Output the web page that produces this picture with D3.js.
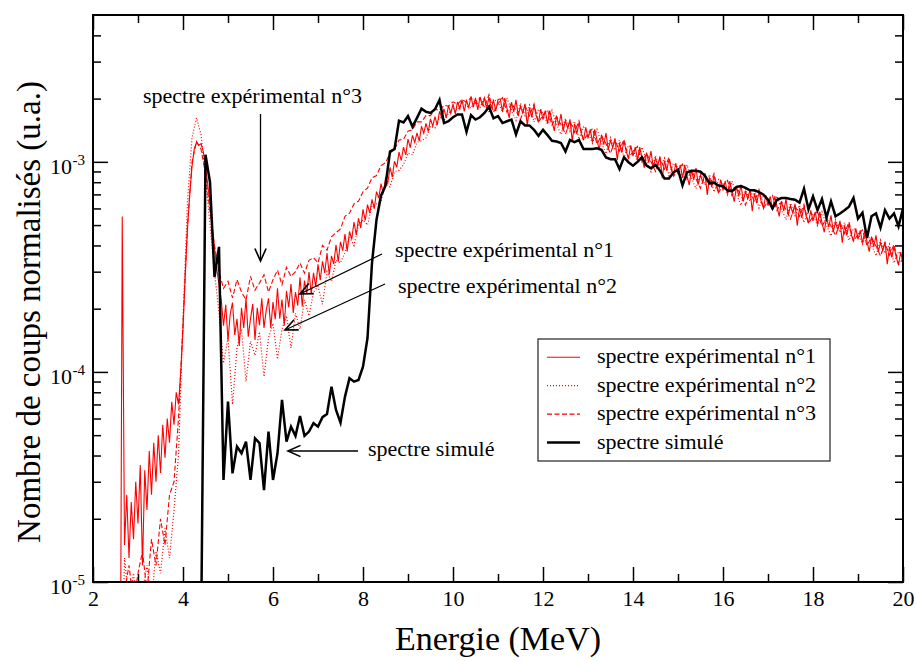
<!DOCTYPE html>
<html><head><meta charset="utf-8">
<script src="https://cdn.jsdelivr.net/npm/d3@7"></script>
<style>body{margin:0;background:#fff} text{font-family:"Liberation Serif","Times New Roman",serif;fill:#000}</style>
</head><body><svg id="c" width="916" height="661"></svg>
<script>
// ---- data ----
const xMajorTicks = [2,4,6,8,10,12,14,16,18,20];
const xMinorTicks = [3,5,7,9,11,13,15,17,19];
const yMajorTicks = [1e-5,1e-4,1e-3];
const yMajorExponents = ["-5","-4","-3"];
const yMinorTicks = [2e-5,3e-5,4e-5,5e-5,6e-5,7e-5,8e-5,9e-5,2e-4,3e-4,4e-4,5e-4,6e-4,7e-4,8e-4,9e-4,2e-3,3e-3,4e-3];

// experimental spectrum n°1 : channels of 0.05 MeV starting at 2.60 MeV
const exp1Start = 2.6, exp1Width = 0.05;
const exp1 = [
1e-6,5.5e-4,1.5e-5,2.6e-5,1.3e-5,2.4e-5,1.6e-5,3.0e-5,1.9e-5,3.6e-5,
1.2e-5,3.4e-5,2.2e-5,4.2e-5,2.6e-5,4.6e-5,3.0e-5,5.0e-5,3.3e-5,5.6e-5,
3.9e-5,6.0e-5,4.6e-5,7.2e-5,5.6e-5,8.0e-5,7.0e-5,1.0e-4,1.6e-4,2.9e-4,
4.8e-4,7.0e-4,9.5e-4,1.15e-3,1.24e-3,1.2e-3,1.22e-3,1.12e-3,9.5e-4,7.8e-4,
6.3e-4,4.9e-4,3.9e-4,3.1e-4,2.6e-4,2.2e-4,
1.66e-4,2.09e-4,1.41e-4,1.89e-4,2.14e-4,1.5e-4,1.79e-4,1.33e-4,2.02e-4,1.62e-4,
2.24e-4,1.47e-4,1.79e-4,2.11e-4,1.42e-4,2.02e-4,1.67e-4,2.24e-4,1.62e-4,1.97e-4,
2.24e-4,1.62e-4,2.15e-4,1.78e-4,2.5e-4,1.79e-4,2.21e-4,1.66e-4,2.43e-4,2.03e-4,
2.62e-4,1.91e-4,2.4e-4,2.07e-4,2.82e-4,2.05e-4,2.72e-4,2.35e-4,2.99e-4,2.35e-4,
2.96e-4,2.54e-4,3.25e-4,
2.73e-4,3.36e-4,2.96e-4,3.68e-4,2.9e-4,3.57e-4,3.26e-4,4.03e-4,3.35e-4,4.16e-4,
3.78e-4,4.53e-4,3.75e-4,4.66e-4,4.28e-4,5.17e-4,4.48e-4,5.38e-4,4.84e-4,5.94e-4,
5.26e-4,6.26e-4,5.7e-4,6.63e-4,5.98e-4,7.22e-4,6.72e-4,7.88e-4,7.07e-4,8.35e-4,
7.89e-4,9.4e-4,8.46e-4,10.07e-4,9.41e-4,11.13e-4,10.15e-4,11.76e-4,10.79e-4,12.84e-4,
11.69e-4,13.36e-4,12.38e-4,13.73e-4,12.56e-4,14.77e-4,13.68e-4,15.23e-4,13.91e-4,16.01e-4,
14.78e-4,16.43e-4,14.97e-4,17.38e-4,16.2e-4,17.85e-4,16.17e-4,18.55e-4,16.99e-4,18.8e-4,
16.92e-4,19.29e-4,17.85e-4,19.8e-4,17.39e-4,19.55e-4,18.14e-4,20.52e-4,18.15e-4,20.16e-4,
17.66e-4,20.35e-4,18.62e-4,20.06e-4,17.95e-4,20.33e-4,17.96e-4,19.66e-4,17.48e-4,19.82e-4,
19.93e-4,17.39e-4,20.09e-4,17.95e-4,16.19e-4,19.22e-4,17.29e-4,19.73e-4,16.56e-4,18.44e-4,
17.07e-4,18.9e-4,14.91e-4,18.12e-4,16.26e-4,18.55e-4,16.55e-4,15.42e-4,17.83e-4,15.87e-4,
17.54e-4,15.25e-4,17.55e-4,15.62e-4,14.04e-4,16.59e-4,14.87e-4,16.9e-4,14.12e-4,15.66e-4,
14.44e-4,15.92e-4,12.51e-4,15.14e-4,13.54e-4,15.38e-4,13.66e-4,12.67e-4,14.59e-4,12.92e-4,
14.28e-4,12.41e-4,14.27e-4,12.69e-4,11.4e-4,13.46e-4,12.06e-4,13.69e-4,11.44e-4,12.67e-4,
11.7e-4,12.93e-4,10.17e-4,12.33e-4,11.05e-4,12.57e-4,11.18e-4,10.39e-4,11.99e-4,10.64e-4,
11.76e-4,10.21e-4,11.74e-4,10.44e-4,9.37e-4,11.07e-4,9.91e-4,11.25e-4,9.39e-4,10.4e-4,
9.61e-4,10.61e-4,8.36e-4,10.13e-4,9.07e-4,10.32e-4,9.19e-4,8.54e-4,9.85e-4,8.74e-4,
9.67e-4,8.41e-4,9.68e-4,8.61e-4,7.74e-4,9.16e-4,8.21e-4,9.33e-4,7.8e-4,8.65e-4,
8.0e-4,8.84e-4,6.96e-4,8.44e-4,7.57e-4,8.62e-4,7.67e-4,7.13e-4,8.24e-4,7.32e-4,
8.09e-4,7.03e-4,8.09e-4,7.2e-4,6.47e-4,7.64e-4,6.85e-4,7.78e-4,6.5e-4,7.21e-4,
6.67e-4,7.38e-4,5.82e-4,7.07e-4,6.35e-4,7.24e-4,6.45e-4,6.01e-4,6.94e-4,6.18e-4,
6.84e-4,5.95e-4,6.86e-4,6.11e-4,5.5e-4,6.51e-4,5.84e-4,6.65e-4,5.57e-4,6.18e-4,
5.71e-4,6.31e-4,4.97e-4,6.03e-4,5.41e-4,6.16e-4,5.48e-4,5.1e-4,5.88e-4,5.23e-4,
5.78e-4,5.02e-4,5.78e-4,5.14e-4,4.62e-4,5.46e-4,4.89e-4,5.56e-4,4.65e-4,5.15e-4,
4.75e-4,5.24e-4,4.12e-4,4.99e-4,4.47e-4,5.08e-4,4.51e-4,4.19e-4,4.82e-4,4.28e-4,
4.72e-4,4.09e-4,4.7e-4,4.17e-4,3.74e-4,4.41e-4,3.94e-4,4.47e-4,3.73e-4,4.12e-4,
3.79e-4,4.17e-4,3.26e-4,3.94e-4,3.51e-4,3.96e-4,3.51e-4,3.24e-4,3.72e-4,3.28e-4];

// experimental spectra n°2 and n°3 : channels of 0.1 MeV starting at 2.6 MeV
const exp23Start = 2.6, exp23Width = 0.1;
const exp2 = [
1e-6,1.3e-5,8e-6,1.1e-5,7e-6,9e-6,1.2e-5,8e-6,1.4e-5,1.1e-5,
1.8e-5,1.3e-5,2.2e-5,4.0e-5,1.8e-4,6.5e-4,1.3e-3,1.62e-3,1.35e-3,8.5e-4,
5.0e-4,3.0e-4,1.9e-4,1.1e-4,1.45e-4,7e-5,1.3e-4,1.6e-4,9e-5,1.4e-4,
1.2e-4,1.55e-4,9.5e-5,1.45e-4,1.7e-4,1.15e-4,1.6e-4,1.85e-4,1.3e-4,1.9e-4,
1.6e-4,2.2e-4,1.85e-4,2.4e-4,2.55e-4,2.1e-4,3.0e-4,2.7e-4,3.4e-4,3.3e-4,
3.7e-4,4.4e-4,4.0e-4,5.0e-4,5.3e-4,5.0e-4,6.2e-4,6.3e-4,6.5e-4,7.8e-4,
7.6e-4,9.0e-4,9.1e-4,9.7e-4,1.1e-3,1.08e-3,1.24e-3,1.26e-3,1.3e-3,1.48e-3,
1.45e-3,1.63e-3,1.57e-3,1.7e-3,1.8e-3,1.76e-3,1.93e-3,1.84e-3,1.8e-3,1.98e-3,
18.05e-4,20.44e-4,17.1e-4,19.85e-4,19.28e-4,17.2e-4,20.17e-4,17.57e-4,15.75e-4,18.97e-4,
16.6e-4,18.64e-4,15.46e-4,17.79e-4,17.03e-4,15.09e-4,17.55e-4,15.17e-4,13.49e-4,16.11e-4,
13.99e-4,15.58e-4,12.82e-4,14.62e-4,13.87e-4,12.27e-4,14.26e-4,12.31e-4,10.93e-4,13.04e-4,
11.36e-4,12.69e-4,10.48e-4,11.99e-4,11.42e-4,10.1e-4,11.73e-4,10.12e-4,8.98e-4,10.71e-4,
9.32e-4,10.42e-4,8.6e-4,9.85e-4,9.38e-4,8.32e-4,9.68e-4,8.37e-4,7.45e-4,8.9e-4,
7.76e-4,8.69e-4,7.18e-4,8.23e-4,7.85e-4,6.96e-4,8.09e-4,6.99e-4,6.21e-4,7.42e-4,
6.49e-4,7.28e-4,6.03e-4,6.93e-4,6.63e-4,5.89e-4,6.87e-4,5.95e-4,5.31e-4,6.36e-4,
5.55e-4,6.21e-4,5.13e-4,5.88e-4,5.61e-4,4.97e-4,5.78e-4,4.99e-4,4.44e-4,5.3e-4,
4.61e-4,5.14e-4,4.23e-4,4.83e-4,4.59e-4,4.05e-4,4.69e-4,4.03e-4,3.57e-4,4.24e-4,
3.67e-4,4.06e-4,3.3e-4,3.74e-4,3.52e-4];
const exp3 = [
1e-6,9e-6,1.2e-5,8e-6,1.1e-5,1.4e-5,9e-6,1.6e-5,1.2e-5,2.0e-5,
1.5e-5,2.6e-5,3.0e-5,6.0e-5,1.7e-4,5.0e-4,1.0e-3,1.25e-3,1.15e-3,8.8e-4,
5.8e-4,4.0e-4,3.0e-4,2.5e-4,2.7e-4,2.25e-4,2.75e-4,2.4e-4,2.2e-4,2.85e-4,
2.45e-4,2.65e-4,2.9e-4,2.4e-4,2.75e-4,3.05e-4,2.6e-4,3.15e-4,2.85e-4,3.0e-4,
3.3e-4,2.95e-4,3.4e-4,3.5e-4,3.3e-4,4.0e-4,3.8e-4,4.4e-4,4.6e-4,4.8e-4,
5.5e-4,5.7e-4,6.3e-4,6.5e-4,7.2e-4,7.5e-4,8.4e-4,8.6e-4,9.6e-4,9.9e-4,
1.1e-3,1.14e-3,1.27e-3,1.28e-3,1.4e-3,1.42e-3,1.55e-3,1.55e-3,1.66e-3,1.66e-3,
1.78e-3,1.76e-3,1.86e-3,1.84e-3,1.93e-3,1.88e-3,1.98e-3,1.92e-3,2.02e-3,1.9e-3,
20.16e-4,18.15e-4,20.9e-4,17.2e-4,18.9e-4,20.2e-4,17.21e-4,19.03e-4,17.56e-4,15.93e-4,
18.54e-4,16.55e-4,18.9e-4,15.42e-4,16.7e-4,17.71e-4,14.97e-4,16.43e-4,15.04e-4,13.53e-4,
15.62e-4,13.83e-4,15.66e-4,12.67e-4,13.6e-4,14.41e-4,12.16e-4,13.33e-4,12.18e-4,10.95e-4,
12.68e-4,11.27e-4,12.8e-4,10.39e-4,11.2e-4,11.86e-4,10.01e-4,10.96e-4,10.01e-4,8.99e-4,
10.42e-4,9.25e-4,10.52e-4,8.54e-4,9.2e-4,9.76e-4,8.26e-4,9.07e-4,8.3e-4,7.48e-4,
8.67e-4,7.71e-4,8.78e-4,7.13e-4,7.7e-4,8.16e-4,6.9e-4,7.57e-4,6.93e-4,6.23e-4,
7.25e-4,6.46e-4,7.37e-4,6.01e-4,6.5e-4,6.91e-4,5.86e-4,6.45e-4,5.92e-4,5.34e-4,
6.2e-4,5.51e-4,6.27e-4,5.1e-4,5.5e-4,5.83e-4,4.93e-4,5.41e-4,4.95e-4,4.45e-4,
5.15e-4,4.56e-4,5.17e-4,4.19e-4,4.5e-4,4.75e-4,4.0e-4,4.37e-4,3.98e-4,3.56e-4,
4.1e-4,3.6e-4,4.04e-4,3.24e-4,3.45e-4];

// simulated spectrum : bins of 0.1 MeV starting at 4.4 MeV
const simStart = 4.4, simWidth = 0.1;
const sim = [
5e-6,1.08e-3,8.0e-4,2.83e-4,3.94e-4,3.06e-5,
7.22e-5,3.29e-5,4.41e-5,4.10e-5,4.66e-5,3.06e-5,4.83e-5,4.58e-5,2.74e-5,5.20e-5,
3.06e-5,4.10e-5,7.36e-5,4.66e-5,5.49e-5,4.96e-5,6.17e-5,4.96e-5,5.20e-5,5.70e-5,
5.49e-5,6.09e-5,6.31e-5,8.51e-5,6.59e-5,5.74e-5,7.63e-5,9.33e-5,8.99e-5,9.16e-5,
1.06e-4,1.45e-4,3.3e-4,5.3e-4,6.9e-4,7.7e-4,1.12e-3,1.15e-3,1.57e-3,1.54e-3,
1.65e-3,1.47e-3,1.62e-3,1.79e-3,1.73e-3,1.71e-3,1.78e-3,1.97e-3,1.53e-3,1.56e-3,
1.63e-3,1.68e-3,1.68e-3,1.39e-3,1.67e-3,1.59e-3,1.63e-3,1.71e-3,1.83e-3,1.61e-3,
1.65e-3,1.53e-3,1.56e-3,1.59e-3,1.35e-3,1.56e-3,1.49e-3,1.49e-3,1.42e-3,1.33e-3,
1.42e-3,1.34e-3,1.26e-3,1.25e-3,1.23e-3,1.12e-3,1.27e-3,1.24e-3,1.27e-3,1.15e-3,
1.15e-3,1.15e-3,1.16e-3,1.14e-3,1.05e-3,1.03e-3,1.03e-3,9.24e-4,1.05e-3,9.96e-4,
9.59e-4,1.0e-3,1.05e-3,9.59e-4,9.31e-4,9.66e-4,9.07e-4,8.32e-4,8.32e-4,8.91e-4,
9.17e-4,7.72e-4,8.91e-4,9.07e-4,9.07e-4,8.98e-4,8.58e-4,7.90e-4,7.96e-4,7.72e-4,
7.66e-4,7.32e-4,7.24e-4,7.60e-4,7.66e-4,7.52e-4,7.32e-4,7.32e-4,7.17e-4,6.98e-4,
6.6e-4,6.0e-4,6.6e-4,6.73e-4,6.73e-4,6.65e-4,6.6e-4,6.4e-4,7.44e-4,5.94e-4,
6.85e-4,5.89e-4,6.65e-4,5.43e-4,6.48e-4,5.51e-4,5.68e-4,5.89e-4,6.12e-4,6.73e-4,
5.37e-4,5.72e-4,4.34e-4,5.51e-4,5.68e-4,4.86e-4,5.89e-4,5.37e-4,5.68e-4,4.93e-4,
6.0e-4,3.0e-4];

const legendLabels = ["spectre expérimental n°1","spectre expérimental n°2","spectre expérimental n°3","spectre simulé"];
const xTitle = "Energie (MeV)";
const yTitle = "Nombre de coups normalisés (u.a.)";

// ---- drawing ----
const svg = d3.select("#c");
const L = 93, R = 903, T = 15, B = 582;
const x = d3.scaleLinear().domain([2,20]).range([L,R]);
const y = d3.scaleLog().domain([1e-5,5e-3]).range([B,T]);

svg.append("defs").append("clipPath").attr("id","clip")
  .append("rect").attr("x",L).attr("y",T).attr("width",R-L).attr("height",B-T);
const mk = svg.select("defs").append("marker").attr("id","arr")
  .attr("markerUnits","userSpaceOnUse").attr("markerWidth",20).attr("markerHeight",20)
  .attr("viewBox","-12 -8 14 16").attr("refX",0).attr("refY",0).attr("orient","auto");
mk.append("path").attr("d","M-10,-4.5L0,0L-10,4.5").attr("fill","none").attr("stroke","#000").attr("stroke-width",1.3);

const toSeries = (vals, start, width) => vals.map((v,i)=>({e: start + i*width, v}));
const line = d3.line().x(d=>x(d.e)).y(d=>y(d.v));

const plot = svg.append("g").attr("clip-path","url(#clip)");
plot.append("path").datum(toSeries(exp1,exp1Start,exp1Width)).attr("d",line)
  .attr("fill","none").attr("stroke","#ff0000").attr("stroke-width",1.1);
plot.append("path").datum(toSeries(exp2,exp23Start,exp23Width)).attr("d",line)
  .attr("fill","none").attr("stroke","#ff0000").attr("stroke-width",1.2).attr("stroke-dasharray","1,2");
plot.append("path").datum(toSeries(exp3,exp23Start,exp23Width)).attr("d",line)
  .attr("fill","none").attr("stroke","#ff0000").attr("stroke-width",1.1).attr("stroke-dasharray","5,2.5");
plot.append("path").datum(toSeries(sim,simStart,simWidth)).attr("d",line)
  .attr("fill","none").attr("stroke","#000").attr("stroke-width",2.5).attr("stroke-linejoin","miter");

// axes (ticks inward)
function styleAxis(g){ g.select(".domain").remove(); g.selectAll(".tick line").attr("stroke","#000").attr("stroke-width",1.5); }
svg.append("g").attr("transform",`translate(0,${B})`)
  .call(d3.axisBottom(x).tickValues(xMajorTicks).tickSize(-15).tickPadding(8).tickFormat(d=>d))
  .call(styleAxis).call(g=>g.selectAll("text").attr("font-size",22).attr("font-family","Liberation Serif").attr("dy","0.71em"));
svg.append("g").attr("transform",`translate(0,${B})`)
  .call(d3.axisBottom(x).tickValues(xMinorTicks).tickSize(-8).tickFormat("")).call(styleAxis);
svg.append("g").attr("transform",`translate(0,${T})`)
  .call(d3.axisTop(x).tickValues(xMajorTicks).tickSize(-15).tickFormat("")).call(styleAxis);
svg.append("g").attr("transform",`translate(0,${T})`)
  .call(d3.axisTop(x).tickValues(xMinorTicks).tickSize(-8).tickFormat("")).call(styleAxis);
svg.append("g").attr("transform",`translate(${L},0)`)
  .call(d3.axisLeft(y).tickValues(yMajorTicks).tickSize(-15).tickFormat("")).call(styleAxis);
svg.append("g").attr("transform",`translate(${L},0)`)
  .call(d3.axisLeft(y).tickValues(yMinorTicks).tickSize(-8).tickFormat("")).call(styleAxis);
svg.append("g").attr("transform",`translate(${R},0)`)
  .call(d3.axisRight(y).tickValues(yMajorTicks).tickSize(-15).tickFormat("")).call(styleAxis);
svg.append("g").attr("transform",`translate(${R},0)`)
  .call(d3.axisRight(y).tickValues(yMinorTicks).tickSize(-8).tickFormat("")).call(styleAxis);

svg.append("rect").attr("x",L).attr("y",T).attr("width",R-L).attr("height",B-T)
  .attr("fill","none").attr("stroke","#000").attr("stroke-width",2);

// y tick labels 10^n
const yl = svg.append("g");
yMajorTicks.forEach((v,i)=>{
  yl.append("text").attr("x",72).attr("y",y(v)+12).attr("text-anchor","end").attr("font-size",22).text("10");
  yl.append("text").attr("x",72.5).attr("y",y(v)+3).attr("font-size",15).text(yMajorExponents[i]);
});

// axis titles
svg.append("text").attr("x",(L+R)/2).attr("y",650).attr("text-anchor","middle").attr("font-size",34).text(xTitle);
svg.append("text").attr("transform","translate(40,312) rotate(-90)").attr("text-anchor","middle").attr("font-size",33).text(yTitle);

// legend
const lg = svg.append("g");
lg.append("rect").attr("x",538).attr("y",339).attr("width",292).attr("height",122).attr("fill","#fff").attr("stroke","#222").attr("stroke-width",1.2);
const legStyles = [
  {c:"#ff0000",w:1.1,d:null},{c:"#ff0000",w:1.2,d:"1,2"},{c:"#ff0000",w:1.1,d:"5,2.5"},{c:"#000",w:2.5,d:null}];
legendLabels.forEach((t,i)=>{
  const yy = 357.3 + i*28.4;
  lg.append("line").attr("x1",547).attr("x2",580).attr("y1",yy).attr("y2",yy)
    .attr("stroke",legStyles[i].c).attr("stroke-width",legStyles[i].w).attr("stroke-dasharray",legStyles[i].d);
  lg.append("text").attr("x",597).attr("y",yy+6).attr("font-size",22).text(t);
});

// annotations
const an = svg.append("g");
const ann = [
  {t:"spectre expérimental n°3", tx:143, ty:103, x1:260.5, y1:114, x2:260.5, y2:261},
  {t:"spectre expérimental n°1", tx:395, ty:257, x1:382, y1:254, x2:300, y2:294},
  {t:"spectre expérimental n°2", tx:398, ty:293, x1:385, y1:284, x2:285, y2:330},
  {t:"spectre simulé", tx:368, ty:456, x1:358, y1:451, x2:288, y2:451}];
ann.forEach(a=>{
  an.append("text").attr("x",a.tx).attr("y",a.ty).attr("font-size",22).text(a.t);
  an.append("line").attr("x1",a.x1).attr("y1",a.y1).attr("x2",a.x2).attr("y2",a.y2)
    .attr("stroke","#000").attr("stroke-width",1.3).attr("marker-end","url(#arr)");
});
</script></body></html>
